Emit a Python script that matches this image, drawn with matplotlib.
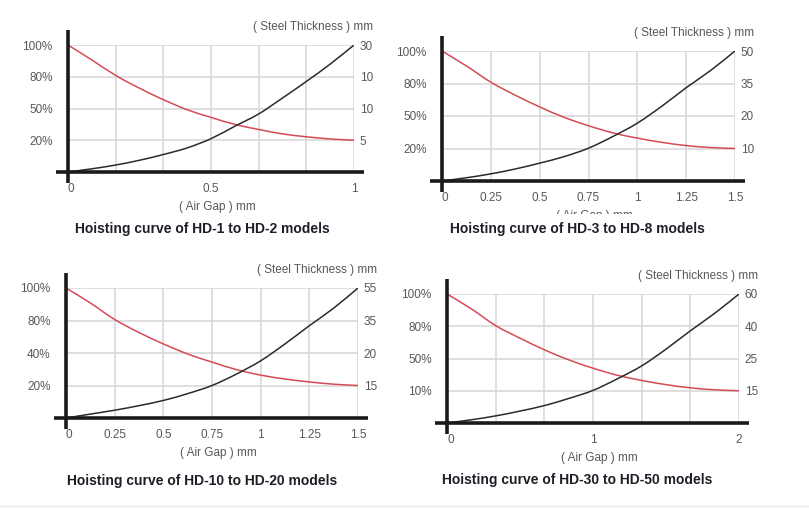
import matplotlib.pyplot as plt
from matplotlib.patches import Rectangle, PathPatch
from matplotlib.path import Path

plt.rcParams['font.family'] = ['Liberation Sans', 'DejaVu Sans']

W, H = 809, 508

# curve heights are in grid rows: 0 = base line, 4 = top grid line
# HD-1 to HD-2
hd1_gap = [0, 0.083, 0.167, 0.25, 0.333, 0.417, 0.5, 0.583, 0.667, 0.75, 0.833, 0.917, 1.0]
hd1_force = [4.0, 3.53, 3.04, 2.64, 2.28, 1.96, 1.72, 1.50, 1.34, 1.20, 1.11, 1.04, 1.00]
hd1_steel = [0, 0.10, 0.22, 0.37, 0.55, 0.76, 1.05, 1.44, 1.83, 2.33, 2.85, 3.40, 4.0]
hd1_xticks = [0, 0.167, 0.333, 0.5, 0.667, 0.833, 1.0]
hd1_xlabels = ['0', '', '', '0.5', '', '', '1']
hd1_left = ['20%', '50%', '80%', '100%']
hd1_right = ['5', '10', '10', '30']

# HD-3 to HD-8
hd3_gap = [0, 0.125, 0.25, 0.375, 0.5, 0.625, 0.75, 0.875, 1.0, 1.125, 1.25, 1.375, 1.5]
hd3_force = [4.0, 3.54, 3.04, 2.64, 2.28, 1.96, 1.70, 1.48, 1.32, 1.19, 1.09, 1.03, 1.0]
hd3_steel = [0, 0.10, 0.22, 0.37, 0.55, 0.75, 1.01, 1.37, 1.78, 2.30, 2.87, 3.40, 4.0]
hd3_xticks = [0, 0.25, 0.5, 0.75, 1.0, 1.25, 1.5]
hd3_xlabels = ['0', '0.25', '0.5', '0.75', '1', '1.25', '1.5']
hd3_left = ['20%', '50%', '80%', '100%']
hd3_right = ['10', '20', '35', '50']

# HD-10 to HD-20
hd10_gap = [0, 0.125, 0.25, 0.375, 0.5, 0.625, 0.75, 0.875, 1.0, 1.125, 1.25, 1.375, 1.5]
hd10_force = [4.0, 3.54, 3.03, 2.63, 2.28, 1.97, 1.72, 1.49, 1.32, 1.20, 1.11, 1.04, 1.0]
hd10_steel = [0, 0.12, 0.24, 0.38, 0.54, 0.75, 1.0, 1.35, 1.76, 2.28, 2.84, 3.38, 4.0]
hd10_xticks = [0, 0.25, 0.5, 0.75, 1.0, 1.25, 1.5]
hd10_xlabels = ['0', '0.25', '0.5', '0.75', '1', '1.25', '1.5']
hd10_left = ['20%', '40%', '80%', '100%']
hd10_right = ['15', '20', '35', '55']

# HD-30 to HD-50
hd30_gap = [0, 0.167, 0.333, 0.5, 0.667, 0.833, 1.0, 1.167, 1.333, 1.5, 1.667, 1.833, 2.0]
hd30_force = [4.0, 3.54, 3.02, 2.63, 2.27, 1.96, 1.70, 1.48, 1.32, 1.19, 1.09, 1.03, 1.0]
hd30_steel = [0, 0.10, 0.22, 0.37, 0.54, 0.76, 1.01, 1.37, 1.77, 2.29, 2.86, 3.40, 4.0]
hd30_xticks = [0, 0.333, 0.667, 1.0, 1.333, 1.667, 2.0]
hd30_xlabels = ['0', '', '', '1', '', '', '2']
hd30_left = ['10%', '50%', '80%', '100%']
hd30_right = ['15', '25', '40', '60']

LABEL_GREY = '#585858'
RED = '#d64a55'
DARK = '#2b2b2b'


def smooth_path(xs, ys):
    """Bezier path through the points (Catmull-Rom control points)."""
    pts = list(zip(xs, ys))
    verts = [pts[0]]
    codes = [Path.MOVETO]
    n = len(pts)
    for i in range(n - 1):
        p0 = pts[max(i - 1, 0)]
        p1 = pts[i]
        p2 = pts[i + 1]
        p3 = pts[min(i + 2, n - 1)]
        c1 = (p1[0] + (p2[0] - p0[0]) / 6, p1[1] + (p2[1] - p0[1]) / 6)
        c2 = (p2[0] - (p3[0] - p1[0]) / 6, p2[1] - (p3[1] - p1[1]) / 6)
        verts += [c1, c2, p2]
        codes += [Path.CURVE4] * 3
    return Path(verts, codes)


def draw_panel(fig, box, gap, force, steel, xticks, xlabels, left, right, title, title_xy):
    """box = (left, top, right, bottom) of the plot area in pixels."""
    x0, y0, x1, y1 = box
    ax = fig.add_axes([x0 / W, 1 - y1 / H, (x1 - x0) / W, (y1 - y0) / H])
    ax.set_xlim(0, xticks[-1])
    ax.set_ylim(0, 4)
    for s in ax.spines.values():
        s.set_visible(False)

    ax.set_xticks(xticks, xlabels)
    ax.set_yticks([1, 2, 3, 4], left)
    ax.tick_params(length=0, labelsize=8.5, labelcolor=LABEL_GREY)
    ax.tick_params(axis='x', pad=8)
    ax.tick_params(axis='y', pad=11)
    ax.get_xticklabels()[0].set_ha('left')
    ax.grid(True, color='#d6d6d6', lw=1.1)
    ax.set_axisbelow(True)

    ax2 = ax.twinx()
    ax2.set_ylim(0, 4)
    ax2.set_yticks([1, 2, 3, 4], right)
    ax2.tick_params(length=0, labelsize=8.5, labelcolor=LABEL_GREY, pad=4)
    for s in ax2.spines.values():
        s.set_visible(False)

    ax.add_patch(PathPatch(smooth_path(gap, force), fill=False, edgecolor=RED,
                           lw=1.1, zorder=3))
    ax.add_patch(PathPatch(smooth_path(gap, steel), fill=False, edgecolor=DARK,
                           lw=1.1, zorder=3))

    # thick axis lines, sticking out past the plot area
    pw, ph = x1 - x0, y1 - y0
    ax.plot([-12 / pw, 1 + 10 / pw], [0, 0], transform=ax.transAxes,
            color='#1a1a1a', lw=2.6, clip_on=False, zorder=4, solid_capstyle='butt')
    ax.plot([0, 0], [-11 / ph, 1 + 15 / ph], transform=ax.transAxes,
            color='#1a1a1a', lw=2.6, clip_on=False, zorder=4, solid_capstyle='butt')

    fig.text((x1 + 19) / W, 1 - (y0 - 18) / H, '( Steel Thickness ) mm',
             ha='right', va='center', fontsize=8.5, color=LABEL_GREY)
    fig.text((x0 + x1) / 2 / W + 6 / W, 1 - (y1 + 35) / H, '( Air Gap ) mm',
             ha='center', va='center', fontsize=8.5, color=LABEL_GREY)
    fig.text(title_xy[0] / W, 1 - title_xy[1] / H, title, ha='center', va='center',
             fontsize=10, fontweight='bold', color='#1e1e28', zorder=11)
    return ax


fig = plt.figure(figsize=(W / 100, H / 100), dpi=100)

draw_panel(fig, (68, 45, 354, 172), hd1_gap, hd1_force, hd1_steel,
           hd1_xticks, hd1_xlabels, hd1_left, hd1_right,
           'Hoisting curve of HD-1 to HD-2 models', (202, 229))
draw_panel(fig, (442, 51, 735, 181), hd3_gap, hd3_force, hd3_steel,
           hd3_xticks, hd3_xlabels, hd3_left, hd3_right,
           'Hoisting curve of HD-3 to HD-8 models', (577, 229))
draw_panel(fig, (66, 288, 358, 418), hd10_gap, hd10_force, hd10_steel,
           hd10_xticks, hd10_xlabels, hd10_left, hd10_right,
           'Hoisting curve of HD-10 to HD-20 models', (202, 481))
draw_panel(fig, (447, 294, 739, 423), hd30_gap, hd30_force, hd30_steel,
           hd30_xticks, hd30_xlabels, hd30_left, hd30_right,
           'Hoisting curve of HD-30 to HD-50 models', (577, 480))

# the HD-3 air gap label is mostly hidden under the caption in the source
fig.add_artist(Rectangle((550 / W, 1 - 225 / H), 100 / W, 11.5 / H,
                         transform=fig.transFigure, facecolor='white',
                         edgecolor='none', zorder=10))

# faint rule along the bottom edge
fig.add_artist(plt.Line2D([0, 1], [1 - 506 / H, 1 - 506 / H], transform=fig.transFigure,
                          color='#e6e6e6', lw=1))

fig.savefig('out.png', dpi=100)
